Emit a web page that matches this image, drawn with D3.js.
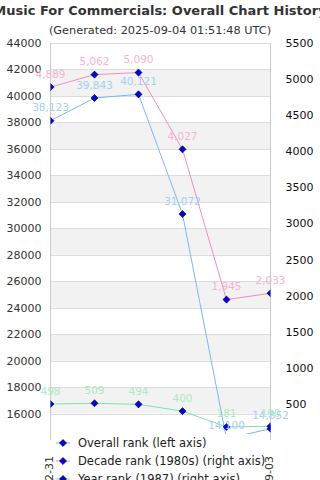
<!DOCTYPE html>
<html><head><meta charset="utf-8">
<script src="https://cdn.jsdelivr.net/npm/d3@7"></script>
<style>body{margin:0;background:#fff}svg{display:block;font-family:"DejaVu Sans",sans-serif}</style>
</head><body><svg id="c" width="320" height="480"></svg>
<script>
const dates = ["2020-12-31","2021-12-31","2022-12-31","2023-12-31","2024-12-31","2025-09-03"];
const overallRank = [38123, 39843, 40121, 31072, 14100, 14852];
const decadeRank = [4889, 5062, 5090, 4027, 1945, 2033];
const yearRank = [498, 509, 494, 400, 181, 190];
const leftTicks = [16000,18000,20000,22000,24000,26000,28000,30000,32000,34000,36000,38000,40000,42000,44000];
const rightTicks = [500,1000,1500,2000,2500,3000,3500,4000,4500,5000,5500];
const seriesNames = ["Overall rank (left axis)","Decade rank (1980s) (right axis)","Year rank (1987) (right axis)"];

const svg = d3.select("#c");
const L = 50.5, R = 270.5, T = 43, B = 440;
const x = d3.scalePoint().domain(dates).range([L, R]);
const yL = d3.scaleLinear().domain([14000, 44000]).range([B, T]);
const yR = d3.scaleLinear().domain([0, 5500]).range([B, T]);

// bands
const bandEdges = d3.range(14000, 44000, 2000);
svg.append("g").selectAll("rect").data(bandEdges.filter(v => ((44000 - v - 2000) / 2000) % 2 === 1))
  .join("rect").attr("x", L).attr("width", R - L)
  .attr("y", d => yL(d + 2000)).attr("height", d => yL(d) - yL(d + 2000)).attr("fill", "#f2f2f2");
// grid
svg.append("g").selectAll("line").data(leftTicks).join("line")
  .attr("x1", L).attr("x2", R).attr("y1", d => Math.round(yL(d)) + 0.5).attr("y2", d => Math.round(yL(d)) + 0.5)
  .attr("stroke", "#ddd");
// vertical axis lines
svg.append("line").attr("x1", L).attr("x2", L).attr("y1", T).attr("y2", B).attr("stroke", "#ccc");
svg.append("line").attr("x1", R).attr("x2", R).attr("y1", T).attr("y2", B).attr("stroke", "#ccc");

// left axis
const gl = svg.append("g").attr("transform", `translate(${L},0)`)
  .call(d3.axisLeft(yL).tickValues(leftTicks).tickFormat(d3.format("d")).tickSize(0).tickPadding(9));
gl.select(".domain").remove();
gl.selectAll("text").attr("font-size", 11).attr("fill", "#333").attr("font-family", "DejaVu Sans");
// right axis
const gr = svg.append("g").attr("transform", `translate(${R},0)`)
  .call(d3.axisRight(yR).tickValues(rightTicks).tickFormat(d3.format("d")).tickSize(0).tickPadding(15));
gr.select(".domain").remove();
gr.selectAll("text").attr("font-size", 11).attr("fill", "#111").attr("font-family", "DejaVu Sans");

// x axis labels
const gx = svg.append("g").attr("transform", `translate(0,${B})`)
  .call(d3.axisBottom(x).tickSize(0).tickPadding(0));
gx.select(".domain").remove();
gx.selectAll("text").attr("font-size", 11).attr("fill", "#333").attr("font-family", "DejaVu Sans")
  .attr("text-anchor", "end").attr("transform", "translate(-2,16) rotate(-90)").attr("dy", "0.35em").attr("y", 0);

const series = [
  {vals: overallRank, y: yL, line: "#7ab8f5", label: "#a6cdf3", fmt: d3.format(",")},
  {vals: decadeRank, y: yR, line: "#f08cc0", label: "#f6b3d3", fmt: d3.format(",")},
  {vals: yearRank, y: yR, line: "#80e0b0", label: "#ade9c6", fmt: d3.format(",")}
];
svg.append("clipPath").attr("id", "pc").append("rect").attr("x", L).attr("y", T - 10).attr("width", R - L).attr("height", B - T + 10);
const plot = svg.append("g").attr("clip-path", "url(#pc)");
const diamond = d3.symbol().type(d3.symbolDiamond2).size(32);
series.forEach(s => {
  const pts = s.vals.map((v, i) => [x(dates[i]), s.y(v)]);
  plot.append("path").attr("d", d3.line()(pts)).attr("fill", "none").attr("stroke", s.line).attr("stroke-width", 1);
});
series.forEach(s => {
  const pts = s.vals.map((v, i) => [x(dates[i]), s.y(v)]);
  plot.selectAll(null).data(pts).join("path").attr("d", diamond)
    .attr("transform", d => `translate(${d[0]},${d[1]})`).attr("fill", "#0000ee").attr("stroke", "#000").attr("stroke-width", 0.6);
});
series.forEach(s => {
  svg.append("g").selectAll("text").data(s.vals).join("text")
    .attr("x", (v, i) => x(dates[i])).attr("y", v => s.y(v) - 9.5)
    .attr("text-anchor", "middle").attr("font-size", 10.5).attr("fill", s.label).text(v => s.fmt(v));
});

// title
svg.append("text").attr("x", 160).attr("y", 15).attr("text-anchor", "middle").attr("font-size", 13)
  .attr("font-weight", "bold").attr("fill", "#333").text("Music For Commercials: Overall Chart History");
svg.append("text").attr("x", 160).attr("y", 34).attr("text-anchor", "middle").attr("font-size", 11.3)
  .attr("fill", "#333").text("(Generated: 2025-09-04 01:51:48 UTC)");

// legend
const lg = svg.append("g");
lg.append("rect").attr("x", 55).attr("y", 434).attr("width", 208).attr("height", 46).attr("fill", "#fff");
seriesNames.forEach((n, i) => {
  const yy = 443 + i * 18;
  lg.append("line").attr("x1", 56).attr("x2", 70).attr("y1", yy).attr("y2", yy).attr("stroke", series[i].line);
  lg.append("path").attr("d", diamond).attr("transform", `translate(63,${yy})`).attr("fill", "#0000ee").attr("stroke", "#000").attr("stroke-width", 0.6);
  lg.append("text").attr("x", 78).attr("y", yy).attr("dy", "0.35em").attr("font-size", 11.5).attr("fill", "#222").text(n);
});
</script></body></html>
